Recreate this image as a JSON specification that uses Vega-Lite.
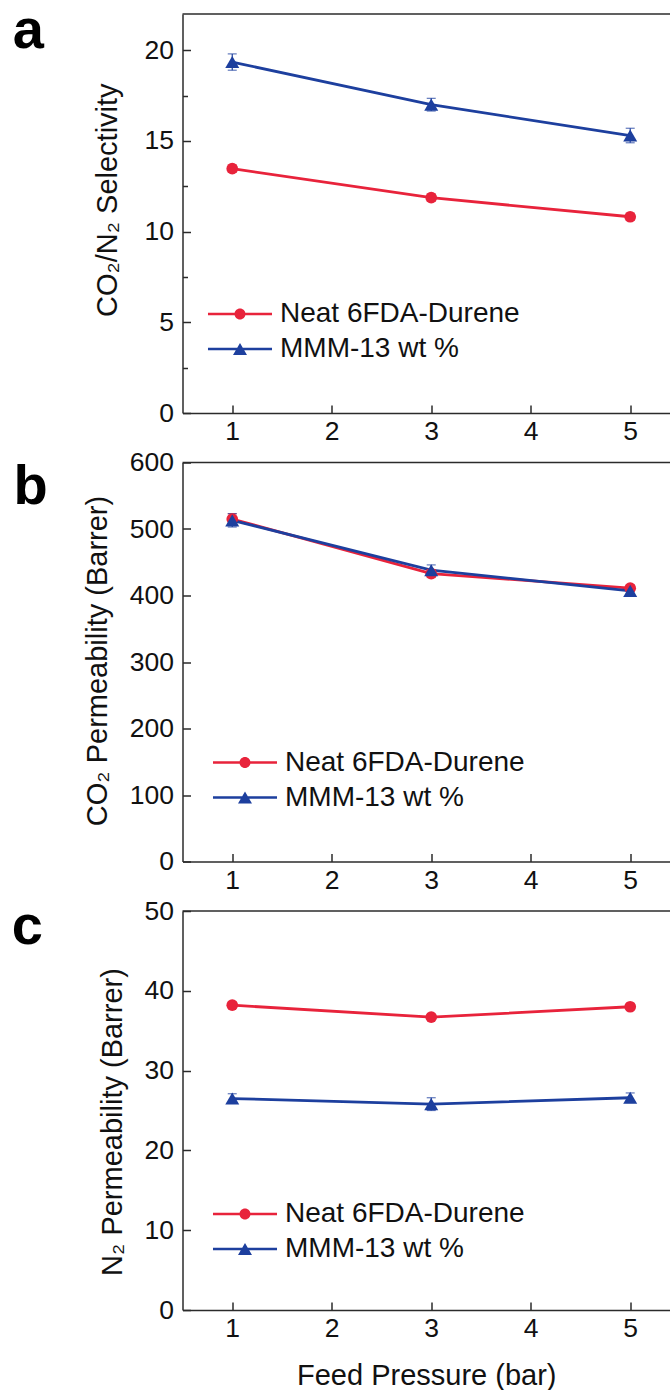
{
  "$schema": "https://vega.github.io/schema/vega-lite/v6.json",
  "autosize": {"type": "pad"},
  "padding": {"left": 11.5, "top": 2, "right": 0, "bottom": 0},
  "background": "white",
  "datasets": {
    "d": [
      {"panel": "a", "s": "Neat 6FDA-Durene", "p": 1, "v": 13.47, "lo": 13.27, "hi": 13.67},
      {"panel": "a", "s": "Neat 6FDA-Durene", "p": 3, "v": 11.87, "lo": 11.67, "hi": 12.07},
      {"panel": "a", "s": "Neat 6FDA-Durene", "p": 5, "v": 10.82, "lo": 10.62, "hi": 11.02},
      {"panel": "a", "s": "MMM-13 wt %", "p": 1, "v": 19.35, "lo": 18.9, "hi": 19.8},
      {"panel": "a", "s": "MMM-13 wt %", "p": 3, "v": 17.0, "lo": 16.65, "hi": 17.35},
      {"panel": "a", "s": "MMM-13 wt %", "p": 5, "v": 15.3, "lo": 14.9, "hi": 15.7},
      {"panel": "b", "s": "Neat 6FDA-Durene", "p": 1, "v": 515, "lo": 507, "hi": 523},
      {"panel": "b", "s": "Neat 6FDA-Durene", "p": 3, "v": 433, "lo": 427, "hi": 439},
      {"panel": "b", "s": "Neat 6FDA-Durene", "p": 5, "v": 411, "lo": 406, "hi": 416},
      {"panel": "b", "s": "MMM-13 wt %", "p": 1, "v": 513, "lo": 503, "hi": 523},
      {"panel": "b", "s": "MMM-13 wt %", "p": 3, "v": 438, "lo": 430, "hi": 446},
      {"panel": "b", "s": "MMM-13 wt %", "p": 5, "v": 407, "lo": 399, "hi": 415},
      {"panel": "c", "s": "Neat 6FDA-Durene", "p": 1, "v": 38.2, "lo": 37.8, "hi": 38.6},
      {"panel": "c", "s": "Neat 6FDA-Durene", "p": 3, "v": 36.7, "lo": 36.4, "hi": 37.0},
      {"panel": "c", "s": "Neat 6FDA-Durene", "p": 5, "v": 38.0, "lo": 37.7, "hi": 38.3},
      {"panel": "c", "s": "MMM-13 wt %", "p": 1, "v": 26.5, "lo": 25.9, "hi": 27.1},
      {"panel": "c", "s": "MMM-13 wt %", "p": 3, "v": 25.8, "lo": 25.0, "hi": 26.6},
      {"panel": "c", "s": "MMM-13 wt %", "p": 5, "v": 26.6, "lo": 26.0, "hi": 27.2}
    ]
  },
  "spacing": 49.5,
  "bounds": "flush",
  "resolve": {
    "scale": {"color": "independent"},
    "legend": {"color": "independent"}
  },
  "vconcat": [
    {
      "data": {"name": "d"},
      "transform": [{"filter": "datum.panel === 'a'"}],
      "width": 487.5,
      "height": 399,
      "title": {"text": "a", "orient": "left", "anchor": "end", "frame": "group", "angle": 0, "align": "right", "baseline": "alphabetic", "offset": 18, "dy": 33.7, "fontSize": 56, "fontWeight": "bold", "font": "Liberation Sans", "color": "#000"},
      "layer": [
        {
          "mark": {"type": "line", "strokeWidth": 2.8},
          "encoding": {
            "x": {"field": "p", "type": "quantitative", "scale": {"domain": [0.5, 5.4], "nice": false, "zero": false},
              "axis": {"values": [1, 1.5, 2, 2.5, 3, 3.5, 4, 4.5, 5], "format": "d", "labelExpr": "datum.value % 1 === 0 ? datum.label : ''", "tickSize": {"condition": {"test": "datum.value % 1 !== 0", "value": -5}, "value": -8}, "labelPadding": 13.8, "title": null}},
            "y": {"field": "v", "type": "quantitative", "scale": {"domain": [0, 22], "nice": false},
              "axis": {"values": [0, 2.5, 5, 7.5, 10, 12.5, 15, 17.5, 20], "format": "d", "labelExpr": "datum.value % 5 === 0 ? datum.label : ''", "tickSize": {"condition": {"test": "datum.value % 5 !== 0", "value": -5}, "value": -8}, "labelPadding": 17,
                "title": "CO₂/N₂ Selectivity", "titleX": -66.5, "titleY": 185.7, "titleAngle": 270, "titleAlign": "center", "titleBaseline": "alphabetic"}},
            "color": {"field": "s", "type": "nominal", "scale": {"domain": ["Neat 6FDA-Durene", "MMM-13 wt %"], "range": ["#E8233B", "#1D3F9E"]},
              "legend": {"orient": "none", "legendX": 43.5, "legendY": 286, "title": null, "labelOffset": 26, "symbolSize": 121,
                "encode": {"symbols": {"update": {
                  "shape": {"signal": "datum.value === 'Neat 6FDA-Durene' ? 'M-5.82,-0.23H5.82V0.23H-5.82Z M-1,0A1,1 0 1,1 1,0A1,1 0 1,1 -1,0Z' : 'M-5.82,-0.23H5.82V0.23H-5.82Z M0,-1.09L1.27,1.09L-1.27,1.09Z'"},
                  "fill": {"signal": "datum.value === 'Neat 6FDA-Durene' ? '#E8233B' : '#1D3F9E'"},
                  "stroke": {"value": "transparent"}, "strokeWidth": {"value": 0}, "size": {"value": 121}, "opacity": {"value": 1}}}}}}
          }
        },
        {
          "mark": {"type": "rule", "strokeWidth": 1.2},
          "encoding": {"x": {"field": "p", "type": "quantitative"}, "y": {"field": "lo", "type": "quantitative"}, "y2": {"field": "hi"}, "color": {"field": "s", "type": "nominal"}}
        },
        {
          "mark": {"type": "tick", "orient": "horizontal", "size": 9, "thickness": 1.2},
          "encoding": {"x": {"field": "p", "type": "quantitative"}, "y": {"field": "lo", "type": "quantitative"}, "color": {"field": "s", "type": "nominal"}}
        },
        {
          "mark": {"type": "tick", "orient": "horizontal", "size": 9, "thickness": 1.2},
          "encoding": {"x": {"field": "p", "type": "quantitative"}, "y": {"field": "hi", "type": "quantitative"}, "color": {"field": "s", "type": "nominal"}}
        },
        {
          "transform": [{"filter": "datum.s === 'Neat 6FDA-Durene'"}],
          "mark": {"type": "point", "filled": true, "opacity": 1, "shape": "circle", "size": 137},
          "encoding": {"x": {"field": "p", "type": "quantitative"}, "y": {"field": "v", "type": "quantitative"}, "color": {"field": "s", "type": "nominal"}}
        },
        {
          "transform": [{"filter": "datum.s === 'MMM-13 wt %'"}],
          "mark": {"type": "point", "filled": true, "opacity": 1, "shape": "triangle-up", "size": 196},
          "encoding": {"x": {"field": "p", "type": "quantitative"}, "y": {"field": "v", "type": "quantitative"}, "color": {"field": "s", "type": "nominal"}}
        },
        {
          "transform": [{"filter": "datum.p === 1 && datum.s === 'MMM-13 wt %'"}],
          "mark": {"type": "rule", "strokeWidth": 1.5, "color": "#2b2b2b"},
          "encoding": {"y": {"datum": 22, "type": "quantitative"}}
        }
      ]
    },
    {
      "data": {"name": "d"},
      "transform": [{"filter": "datum.panel === 'b'"}],
      "width": 487.5,
      "height": 399,
      "title": {"text": "b", "orient": "left", "anchor": "end", "frame": "group", "angle": 0, "align": "right", "baseline": "alphabetic", "offset": 1, "dy": 41.2, "fontSize": 56, "fontWeight": "bold", "font": "Liberation Sans", "color": "#000"},
      "layer": [
        {
          "mark": {"type": "line", "strokeWidth": 2.8},
          "encoding": {
            "x": {"field": "p", "type": "quantitative", "scale": {"domain": [0.5, 5.4], "nice": false, "zero": false},
              "axis": {"values": [1, 1.5, 2, 2.5, 3, 3.5, 4, 4.5, 5], "format": "d", "labelExpr": "datum.value % 1 === 0 ? datum.label : ''", "tickSize": {"condition": {"test": "datum.value % 1 !== 0", "value": -5}, "value": -8}, "labelPadding": 13.8, "title": null}},
            "y": {"field": "v", "type": "quantitative", "scale": {"domain": [0, 600], "nice": false},
              "axis": {"values": [0, 50, 100, 150, 200, 250, 300, 350, 400, 450, 500, 550, 600], "format": "d", "labelExpr": "datum.value % 100 === 0 ? datum.label : ''", "tickSize": {"condition": {"test": "datum.value % 100 !== 0", "value": -5}, "value": -8}, "labelPadding": 17,
                "title": "CO₂ Permeability (Barrer)", "titleX": -76.5, "titleY": 198, "titleAngle": 270, "titleAlign": "center", "titleBaseline": "alphabetic"}},
            "color": {"field": "s", "type": "nominal", "scale": {"domain": ["Neat 6FDA-Durene", "MMM-13 wt %"], "range": ["#E8233B", "#1D3F9E"]},
              "legend": {"orient": "none", "legendX": 48.5, "legendY": 286, "title": null, "labelOffset": 26, "symbolSize": 121,
                "encode": {"symbols": {"update": {
                  "shape": {"signal": "datum.value === 'Neat 6FDA-Durene' ? 'M-5.82,-0.23H5.82V0.23H-5.82Z M-1,0A1,1 0 1,1 1,0A1,1 0 1,1 -1,0Z' : 'M-5.82,-0.23H5.82V0.23H-5.82Z M0,-1.09L1.27,1.09L-1.27,1.09Z'"},
                  "fill": {"signal": "datum.value === 'Neat 6FDA-Durene' ? '#E8233B' : '#1D3F9E'"},
                  "stroke": {"value": "transparent"}, "strokeWidth": {"value": 0}, "size": {"value": 121}, "opacity": {"value": 1}}}}}}
          }
        },
        {
          "mark": {"type": "rule", "strokeWidth": 1.2},
          "encoding": {"x": {"field": "p", "type": "quantitative"}, "y": {"field": "lo", "type": "quantitative"}, "y2": {"field": "hi"}, "color": {"field": "s", "type": "nominal"}}
        },
        {
          "mark": {"type": "tick", "orient": "horizontal", "size": 9, "thickness": 1.2},
          "encoding": {"x": {"field": "p", "type": "quantitative"}, "y": {"field": "lo", "type": "quantitative"}, "color": {"field": "s", "type": "nominal"}}
        },
        {
          "mark": {"type": "tick", "orient": "horizontal", "size": 9, "thickness": 1.2},
          "encoding": {"x": {"field": "p", "type": "quantitative"}, "y": {"field": "hi", "type": "quantitative"}, "color": {"field": "s", "type": "nominal"}}
        },
        {
          "transform": [{"filter": "datum.s === 'Neat 6FDA-Durene'"}],
          "mark": {"type": "point", "filled": true, "opacity": 1, "shape": "circle", "size": 137},
          "encoding": {"x": {"field": "p", "type": "quantitative"}, "y": {"field": "v", "type": "quantitative"}, "color": {"field": "s", "type": "nominal"}}
        },
        {
          "transform": [{"filter": "datum.s === 'MMM-13 wt %'"}],
          "mark": {"type": "point", "filled": true, "opacity": 1, "shape": "triangle-up", "size": 196},
          "encoding": {"x": {"field": "p", "type": "quantitative"}, "y": {"field": "v", "type": "quantitative"}, "color": {"field": "s", "type": "nominal"}}
        },
        {
          "transform": [{"filter": "datum.p === 1 && datum.s === 'MMM-13 wt %'"}],
          "mark": {"type": "rule", "strokeWidth": 1.5, "color": "#2b2b2b"},
          "encoding": {"y": {"datum": 600, "type": "quantitative"}}
        }
      ]
    },
    {
      "data": {"name": "d"},
      "transform": [{"filter": "datum.panel === 'c'"}],
      "width": 487.5,
      "height": 399,
      "title": {"text": "c", "orient": "left", "anchor": "end", "frame": "group", "angle": 0, "align": "right", "baseline": "alphabetic", "offset": 24, "dy": 32.7, "fontSize": 56, "fontWeight": "bold", "font": "Liberation Sans", "color": "#000"},
      "layer": [
        {
          "mark": {"type": "line", "strokeWidth": 2.8},
          "encoding": {
            "x": {"field": "p", "type": "quantitative", "scale": {"domain": [0.5, 5.4], "nice": false, "zero": false},
              "axis": {"values": [1, 1.5, 2, 2.5, 3, 3.5, 4, 4.5, 5], "format": "d", "labelExpr": "datum.value % 1 === 0 ? datum.label : ''", "tickSize": {"condition": {"test": "datum.value % 1 !== 0", "value": -5}, "value": -8}, "labelPadding": 13.8,
                "title": "Feed Pressure (bar)", "titleY": 74, "titleBaseline": "alphabetic"}},
            "y": {"field": "v", "type": "quantitative", "scale": {"domain": [0, 50], "nice": false},
              "axis": {"values": [0, 5, 10, 15, 20, 25, 30, 35, 40, 45, 50], "format": "d", "labelExpr": "datum.value % 10 === 0 ? datum.label : ''", "tickSize": {"condition": {"test": "datum.value % 10 !== 0", "value": -5}, "value": -8}, "labelPadding": 17,
                "title": "N₂ Permeability (Barrer)", "titleX": -61.5, "titleY": 210.5, "titleAngle": 270, "titleAlign": "center", "titleBaseline": "alphabetic"}},
            "color": {"field": "s", "type": "nominal", "scale": {"domain": ["Neat 6FDA-Durene", "MMM-13 wt %"], "range": ["#E8233B", "#1D3F9E"]},
              "legend": {"orient": "none", "legendX": 48.5, "legendY": 289, "title": null, "labelOffset": 26, "symbolSize": 121,
                "encode": {"symbols": {"update": {
                  "shape": {"signal": "datum.value === 'Neat 6FDA-Durene' ? 'M-5.82,-0.23H5.82V0.23H-5.82Z M-1,0A1,1 0 1,1 1,0A1,1 0 1,1 -1,0Z' : 'M-5.82,-0.23H5.82V0.23H-5.82Z M0,-1.09L1.27,1.09L-1.27,1.09Z'"},
                  "fill": {"signal": "datum.value === 'Neat 6FDA-Durene' ? '#E8233B' : '#1D3F9E'"},
                  "stroke": {"value": "transparent"}, "strokeWidth": {"value": 0}, "size": {"value": 121}, "opacity": {"value": 1}}}}}}
          }
        },
        {
          "mark": {"type": "rule", "strokeWidth": 1.2},
          "encoding": {"x": {"field": "p", "type": "quantitative"}, "y": {"field": "lo", "type": "quantitative"}, "y2": {"field": "hi"}, "color": {"field": "s", "type": "nominal"}}
        },
        {
          "mark": {"type": "tick", "orient": "horizontal", "size": 9, "thickness": 1.2},
          "encoding": {"x": {"field": "p", "type": "quantitative"}, "y": {"field": "lo", "type": "quantitative"}, "color": {"field": "s", "type": "nominal"}}
        },
        {
          "mark": {"type": "tick", "orient": "horizontal", "size": 9, "thickness": 1.2},
          "encoding": {"x": {"field": "p", "type": "quantitative"}, "y": {"field": "hi", "type": "quantitative"}, "color": {"field": "s", "type": "nominal"}}
        },
        {
          "transform": [{"filter": "datum.s === 'Neat 6FDA-Durene'"}],
          "mark": {"type": "point", "filled": true, "opacity": 1, "shape": "circle", "size": 137},
          "encoding": {"x": {"field": "p", "type": "quantitative"}, "y": {"field": "v", "type": "quantitative"}, "color": {"field": "s", "type": "nominal"}}
        },
        {
          "transform": [{"filter": "datum.s === 'MMM-13 wt %'"}],
          "mark": {"type": "point", "filled": true, "opacity": 1, "shape": "triangle-up", "size": 196},
          "encoding": {"x": {"field": "p", "type": "quantitative"}, "y": {"field": "v", "type": "quantitative"}, "color": {"field": "s", "type": "nominal"}}
        },
        {
          "transform": [{"filter": "datum.p === 1 && datum.s === 'MMM-13 wt %'"}],
          "mark": {"type": "rule", "strokeWidth": 1.5, "color": "#2b2b2b"},
          "encoding": {"y": {"datum": 50, "type": "quantitative"}}
        }
      ]
    }
  ],
  "config": {
    "font": "Liberation Sans",
    "view": {"stroke": null},
    "axis": {"grid": false, "domainColor": "#2b2b2b", "domainWidth": 1.5, "tickColor": "#2b2b2b", "tickWidth": 1.5,
      "labelFont": "Liberation Sans", "labelFontSize": 26.5, "labelColor": "#111",
      "titleFont": "Liberation Sans", "titleFontSize": 29, "titleFontWeight": "normal", "titleColor": "#111"},
    "legend": {"padding": 0, "labelFont": "Liberation Sans", "labelFontSize": 28, "labelColor": "#111", "labelLimit": 500, "rowPadding": 7, "symbolSize": 121, "symbolStrokeWidth": 0}
  }
}
